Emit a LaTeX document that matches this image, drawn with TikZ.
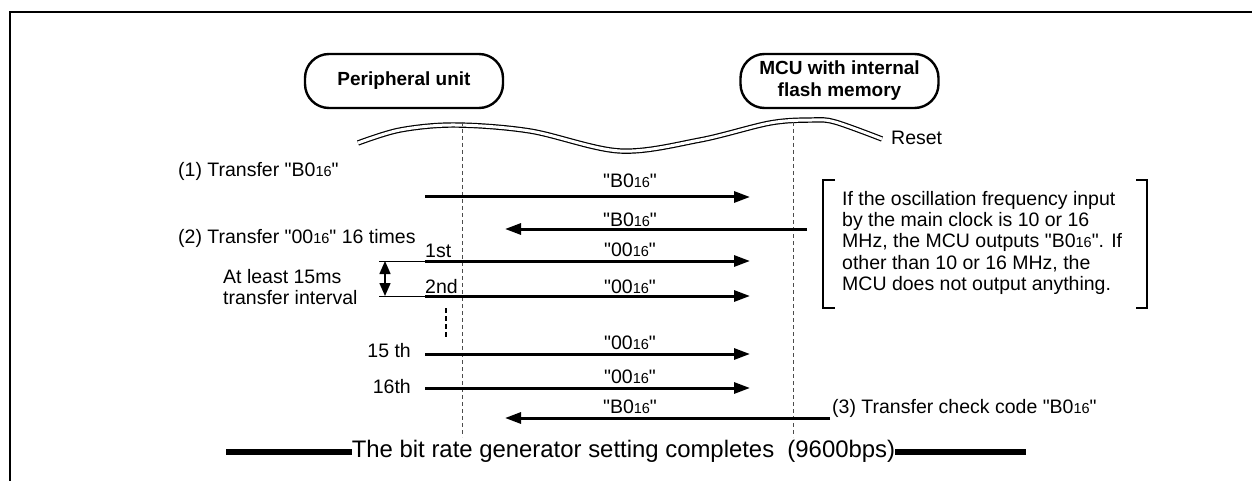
\documentclass[tikz,border=0pt]{standalone}
\usepackage{fontspec}
\setmainfont{Liberation Sans}[Ligatures=TeXOff]
\usetikzlibrary{arrows.meta}
\newcommand{\hx}{{\fontsize{14.5}{14.5}\selectfont 16}}
\begin{document}
\begin{tikzpicture}[x=1pt,y=-1pt,
  txt/.style={font=\fontsize{19.5}{21.2}\selectfont, inner sep=0pt},
  unit/.style={draw, line width=2.4pt, rounded corners=24pt, minimum width=198pt, minimum height=54pt,
    align=center, inner sep=0pt, font=\bfseries\fontsize{19}{22}\selectfont},
  msg/.style={line width=3pt, -{Triangle[length=16pt,width=11pt]}},
  life/.style={line width=0.8pt, gray!60!black, dash pattern=on 4pt off 3pt},
  thin/.style={line width=1pt},
  bracket/.style={line width=1.1pt},
  bar/.style={line width=5.5pt}]
\useasboundingbox (0,0) rectangle (1252,481);
% frame
\coordinate (fb) at (10,481); \coordinate (fc) at (10,12); \coordinate (fr) at (1256,12);
\draw[line width=2pt] (fb) -- (fc) -- (fr);
% units
\node[unit] (pu) at (404,81) {Peripheral unit};
\node[unit] (mcu) at (839.5,81) {MCU with internal\\flash memory};
% reset wave
\draw[double, double distance=3pt, line width=1.2pt]
  plot[smooth, tension=0.55] coordinates {(358,143) (400,130) (455,125) (530,131) (620,151) (700,140) (770,123) (812,120) (835,122) (882,139)};
\node[txt, anchor=base west] (reset) at (891,145) {Reset};
% lifelines
\coordinate (lpt) at (462,122); \coordinate (lpb) at (462,437);
\coordinate (lmt) at (793,122); \coordinate (lmb) at (793,437);
\draw[life] (lpt) -- (lpb);
\draw[life] (lmt) -- (lmb);
% left labels
\node[txt, anchor=base west] (s1) at (178,177) {(1) Transfer "B0\hx"};
\node[txt, anchor=base west] (s2) at (178,243) {(2) Transfer "00\hx" 16 times};
\node[txt, anchor=base west] (intv1) at (223,283) {At least 15ms};
\node[txt, anchor=base west] (intv2) at (223,304) {transfer interval};
\node[txt, anchor=base west] (n1) at (425,257) {1st};
\node[txt, anchor=base west] (n2) at (425,293) {2nd};
\node[txt, anchor=base east] (n15) at (411,357) {15 th};
\node[txt, anchor=base east] (n16) at (411,393) {16th};
% arrows
\coordinate (a1s) at (425,197); \coordinate (a1e) at (750,197);
\coordinate (a2s) at (807,229); \coordinate (a2e) at (505,229);
\coordinate (a3s) at (425,261); \coordinate (a3e) at (750,261);
\coordinate (a4s) at (425,296); \coordinate (a4e) at (750,296);
\coordinate (a5s) at (425,354); \coordinate (a5e) at (750,354);
\coordinate (a6s) at (425,388); \coordinate (a6e) at (750,388);
\coordinate (a7s) at (830,418); \coordinate (a7e) at (505,418);
\draw[msg] (a1s) -- (a1e);
\draw[msg] (a2s) -- (a2e);
\draw[msg] (a3s) -- (a3e);
\draw[msg] (a4s) -- (a4e);
\draw[msg] (a5s) -- (a5e);
\draw[msg] (a6s) -- (a6e);
\draw[msg] (a7s) -- (a7e);
\node[txt, anchor=base] (m1) at (630,187) {"B0\hx"};
\node[txt, anchor=base] (m2) at (630,226) {"B0\hx"};
\node[txt, anchor=base] (m3) at (630,256) {"00\hx"};
\node[txt, anchor=base] (m4) at (630,293) {"00\hx"};
\node[txt, anchor=base] (m5) at (630,349) {"00\hx"};
\node[txt, anchor=base] (m6) at (630,383) {"00\hx"};
\node[txt, anchor=base] (m7) at (630,413) {"B0\hx"};
\node[txt, anchor=base west] (chk) at (832,413) {(3) Transfer check code "B0\hx"};
% interval marker
\coordinate (i1l) at (379,261); \coordinate (i2l) at (379,296);
\coordinate (d1) at (385,261); \coordinate (d2) at (385,296);
\draw[thin] (i1l) -- (a3s);
\draw[thin] (i2l) -- (a4s);
\draw[line width=1.5pt, {Triangle[length=13pt,width=11pt]}-{Triangle[length=13pt,width=11pt]}] (d1) -- (d2);
% omission dots
\coordinate (o1) at (446,308); \coordinate (o2) at (446,337);
\draw[line width=2pt, dash pattern=on 5pt off 3pt] (o1) -- (o2);
% note bracket
\coordinate (bl1) at (835,180); \coordinate (bl2) at (823,180); \coordinate (bl3) at (823,308); \coordinate (bl4) at (835,308);
\coordinate (br1) at (1136,180); \coordinate (br2) at (1147,180); \coordinate (br3) at (1147,308); \coordinate (br4) at (1136,308);
\draw[bracket] (bl1) -- (bl2) -- (bl3) -- (bl4);
\draw[bracket] (br1) -- (br2) -- (br3) -- (br4);
\node[txt, anchor=base west, align=left] (note) at (842,290.3) {If the oscillation frequency input\\by the main clock is 10 or 16\\MHz, the MCU outputs "B0\hx". If\\other than 10 or 16 MHz, the\\MCU does not output anything.};
% completion
\node[inner sep=0pt, anchor=base, font=\fontsize{23.9}{26}\selectfont] (done) at (623.5,457) {The bit rate generator setting completes~ (9600bps)};
\coordinate (bl) at (226,452); \coordinate (br) at (1026,452);
\draw[bar] (bl) -- (done.west |- bl);
\draw[bar] (done.east |- br) -- (br);
\end{tikzpicture}
\end{document}
